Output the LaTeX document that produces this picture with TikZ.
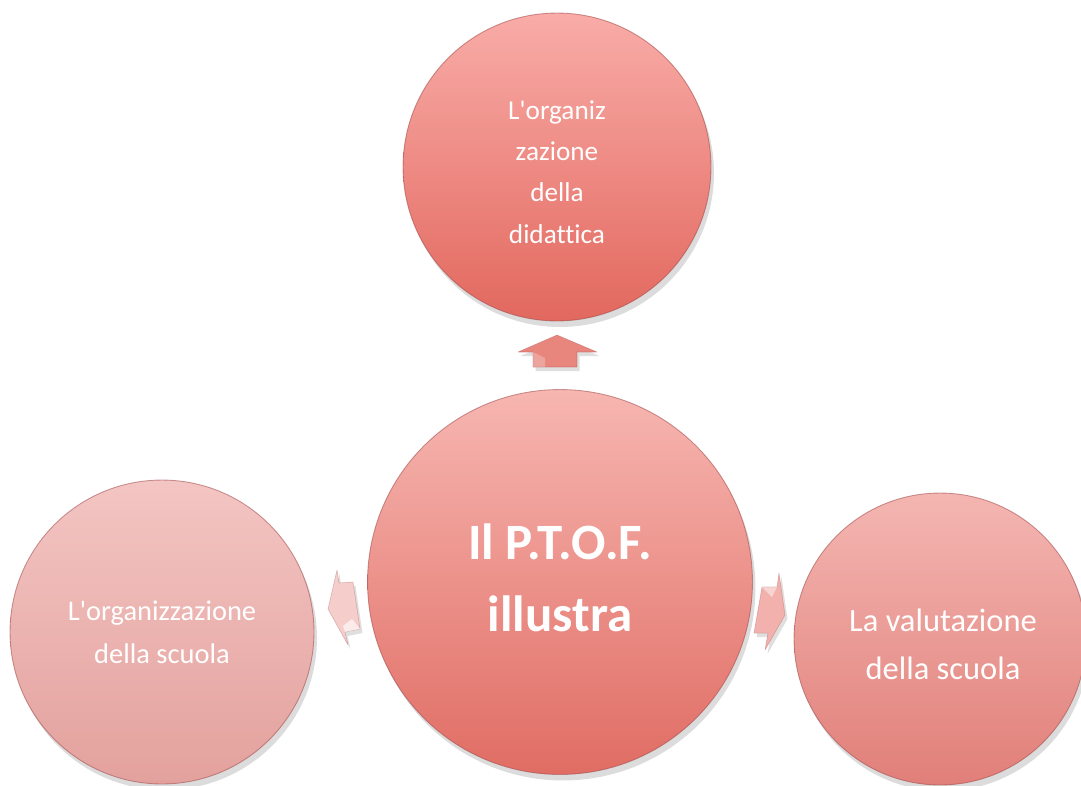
\documentclass[tikz,border=0pt]{standalone}
\usepackage{fontspec}
\setmainfont{Carlito}[Ligatures={TeXOff,NoCommon}]
\usetikzlibrary{shadows}
\definecolor{didA}{HTML}{F9ACA8}
\definecolor{didB}{HTML}{E2685E}
\definecolor{ptofA}{HTML}{F7B6B1}
\definecolor{ptofB}{HTML}{E06D64}
\definecolor{orgA}{HTML}{F3C5C3}
\definecolor{orgB}{HTML}{E3A19D}
\definecolor{valA}{HTML}{F4B6B2}
\definecolor{valB}{HTML}{E17F79}
\definecolor{bordo}{HTML}{A04848}
\tikzset{
	bolla/.style={circle, inner sep=0pt, align=center, text=white, draw=bordo, draw opacity=0.55, line width=0.5pt,
		drop shadow={opacity=0.28, shadow xshift=0.6mm, shadow yshift=-1.2mm}},
	freccia/.style={draw=bordo, draw opacity=0.35, line width=0.3pt, line join=round,
		drop shadow={opacity=0.25, shadow xshift=0.5mm, shadow yshift=-0.8mm}}
}

\begin{document}
\begin{tikzpicture}[x=0.02cm, y=-0.02cm]
			%%%%% START %%%%%
			
			\useasboundingbox (0,0) rectangle (1081,785);
			
			\node[bolla, minimum size=6.16cm, top color=didA, bottom color=didB] (didattica) at (557,167) {};
			\node[text=white, align=center, font=\fontsize{15.5}{23.5}\selectfont] at (557,172) {L'organiz\\zazione\\della\\didattica};
			
			\node[bolla, minimum size=7.7cm, top color=ptofA, bottom color=ptofB] (ptof) at (560,582) {};
			\node[text=white, align=center, font=\bfseries\fontsize{29}{41}\selectfont] at (560,578) {Il P.T.O.F.\\illustra};
			
			\node[bolla, minimum size=6.08cm, top color=orgA, bottom color=orgB, font=\fontsize{16.2}{24.5}\selectfont] (scuola) at (162,632) {L'organizzazione\\della scuola};
			
			\node[bolla, minimum size=5.84cm, top color=valA, bottom color=valB] (valutazione) at (940,639) {};
			\node[text=white, align=center, font=\fontsize{18.5}{27.3}\selectfont] at (943,644) {La valutazione\\della scuola};
			
			\fill[freccia, fill=didB!80!white] (557,335) -- (597,352) -- (577,352) -- (577,367) -- (533,367) -- (533,352) -- (518,352) -- cycle;
			\fill[white, opacity=0.25] (533,352) -- (545,358) -- (545,367) -- (533,367) -- cycle;
			
			\fill[freccia, fill=orgA!85!white] (328,609) -- (337,570) -- (339,583) -- (353,582) -- (360,629) -- (345,632) -- (348,645) -- cycle;
			\fill[white, opacity=0.6] (343,626) -- (352,619) -- (360,629) -- (345,632) -- cycle;
			
			\fill[freccia, fill=valA!90!valB] (785,615) -- (779,573) -- (777,587) -- (762,587) -- (754,633) -- (768,633) -- (765,650) -- cycle;
			\fill[white, opacity=0.45] (762,587) -- (777,587) -- (772,597) -- cycle;
			
			%%%%% END %%%%%
\end{tikzpicture}
\end{document}
